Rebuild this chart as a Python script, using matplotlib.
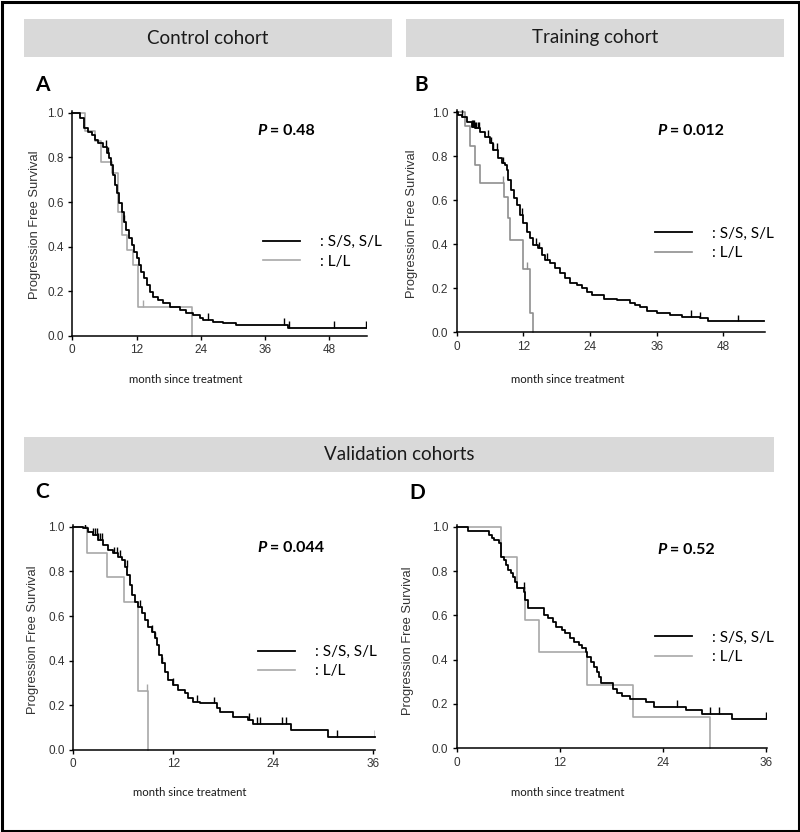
import numpy as np
import matplotlib
matplotlib.use("Agg")
import matplotlib.pyplot as plt
from matplotlib.patches import Rectangle

# ---------------- data (months, progression-free survival) ----------------
# Panel A - Control cohort
A_ss_t = [0, 1.4, 2.1, 3.0, 3.6, 4.2, 4.85, 5.8, 6.4, 6.9, 7.3, 7.6, 7.95, 8.3, 8.75,
          9.2, 9.6, 10.1, 10.6, 11.05, 11.5, 12.0, 12.5, 12.9, 13.35, 13.85, 14.5,
          15.1, 16.0, 16.95, 18.2, 20.1, 21.3, 22.5, 23.8, 24.4, 26.3, 28.1, 29.1,
          30.6, 40.2, 54.8]
A_ss_s = [1.0, 0.975, 0.93, 0.915, 0.9, 0.878, 0.863, 0.848, 0.818, 0.796, 0.766,
          0.721, 0.676, 0.639, 0.594, 0.557, 0.512, 0.475, 0.437, 0.407, 0.378,
          0.348, 0.318, 0.288, 0.258, 0.228, 0.199, 0.176, 0.161, 0.146, 0.131,
          0.116, 0.101, 0.094, 0.079, 0.072, 0.064, 0.06, 0.057, 0.051, 0.037, 0.037]
A_ss_cens = [6.2, 6.6, 9.6, 25.4, 39.6, 40.4, 48.9, 54.8]
A_ll_t = [0, 2.4, 4.2, 5.3, 7.5, 8.6, 9.2, 10.2, 11.4, 12.3, 22.4]
A_ll_s = [1.0, 0.918, 0.873, 0.778, 0.728, 0.554, 0.452, 0.385, 0.318, 0.131, 0.0]
A_ll_cens = [13.2]
A_p = "0.48"

# Panel B - Training cohort
B_ss_t = [0, 0.3, 0.9, 1.8, 2.7, 3.3, 4.2, 5.1, 6.0, 6.6, 7.5, 8.1, 8.7, 9.0, 9.3,
          9.8, 10.4, 10.8, 11.4, 12.0, 12.6, 13.2, 13.8, 14.7, 15.3, 15.9, 16.8,
          17.7, 18.6, 19.5, 20.4, 21.6, 22.5, 23.4, 24.3, 26.6, 28.8, 31.2, 32.1,
          33.0, 34.2, 36.0, 38.4, 40.5, 43.8, 45.3, 55.3]
B_ss_s = [1.0, 0.99, 0.98, 0.958, 0.935, 0.927, 0.912, 0.889, 0.859, 0.829, 0.791,
          0.768, 0.76, 0.738, 0.692, 0.647, 0.609, 0.579, 0.533, 0.495, 0.458,
          0.427, 0.397, 0.382, 0.352, 0.329, 0.314, 0.291, 0.268, 0.245, 0.223,
          0.215, 0.203, 0.185, 0.17, 0.151, 0.145, 0.135, 0.124, 0.115, 0.098,
          0.086, 0.079, 0.071, 0.063, 0.05, 0.05]
B_ss_cens = [1.0, 2.7, 2.9, 3.1, 3.3, 3.5, 3.8, 4.1, 5.6, 6.1, 6.6, 7.2, 8.4, 11.8,
             14.3, 14.9, 16.2, 42.1, 43.8, 50.7]
B_ll_t = [0, 1.5, 2.4, 3.3, 4.2, 8.5, 9.2, 9.6, 12.0, 13.2, 13.7]
B_ll_s = [1.0, 0.94, 0.845, 0.76, 0.68, 0.617, 0.52, 0.42, 0.29, 0.09, 0.0]
B_ll_cens = [0.9, 8.4, 12.6]
B_p = "0.012"

# Panel C - Validation cohort 1
C_ss_t = [0, 1.2, 1.8, 2.4, 3.0, 3.6, 4.2, 4.8, 5.4, 5.8, 6.2, 6.5, 6.8, 7.1, 7.4,
          7.8, 8.2, 8.6, 9.0, 9.4, 9.8, 10.1, 10.3, 10.6, 11.0, 11.4, 12.0, 12.6,
          13.4, 13.8, 14.4, 15.2, 17.2, 17.6, 19.2, 21.0, 21.6, 26.1, 30.6, 36.2]
C_ss_s = [1.0, 0.993, 0.978, 0.963, 0.94, 0.918, 0.896, 0.881, 0.866, 0.851, 0.821,
          0.784, 0.739, 0.694, 0.664, 0.642, 0.612, 0.582, 0.552, 0.53, 0.5, 0.47,
          0.425, 0.388, 0.351, 0.313, 0.291, 0.269, 0.254, 0.231, 0.216, 0.209,
          0.187, 0.172, 0.149, 0.134, 0.116, 0.09, 0.06, 0.06]
C_ss_cens = [1.4, 2.4, 2.6, 2.8, 3.0, 3.2, 3.4, 4.9, 5.2, 5.6, 6.4, 8.0, 9.5, 9.8,
             10.6, 12.0, 14.8, 16.9, 21.1, 22.1, 22.4, 25.0, 25.5, 31.6, 36.2]
C_ll_t = [0, 1.6, 4.1, 6.1, 7.8, 9.0]
C_ll_s = [1.0, 0.884, 0.776, 0.664, 0.266, 0.0]
C_ll_cens = [8.9]
C_p = "0.044"

# Panel D - Validation cohort 2
D_ss_t = [0, 1.35, 3.8, 4.06, 4.37, 4.9, 5.1, 5.5, 5.7, 6.0, 6.3, 6.6, 6.8, 7.0,
          7.85, 8.0, 8.24, 10.1, 10.6, 11.2, 11.6, 12.2, 12.6, 13.2, 13.7, 14.2,
          14.6, 15.0, 15.2, 15.6, 16.0, 16.3, 16.5, 16.8, 18.2, 18.6, 19.2, 20.2,
          22.0, 22.9, 26.7, 28.5, 32.0, 36.0]
D_ss_s = [1.0, 0.982, 0.962, 0.947, 0.94, 0.925, 0.865, 0.85, 0.827, 0.805, 0.79,
          0.772, 0.752, 0.722, 0.707, 0.67, 0.632, 0.602, 0.586, 0.571, 0.548,
          0.534, 0.519, 0.496, 0.481, 0.466, 0.451, 0.436, 0.413, 0.391, 0.368,
          0.346, 0.323, 0.293, 0.266, 0.248, 0.236, 0.222, 0.207, 0.188, 0.173,
          0.155, 0.132, 0.132]
D_ss_cens = [7.8, 25.6, 29.5, 30.5, 36.0]
D_ll_t = [0, 5.1, 7.0, 8.0, 9.6, 15.2, 20.5, 29.5]
D_ll_s = [1.0, 0.865, 0.722, 0.579, 0.436, 0.286, 0.143, 0.0]
D_ll_cens = []
D_p = "0.52"

x_ticks_top = [0, 12, 24, 36, 48]
x_ticks_bottom = [0, 12, 24, 36]
y_ticks = [0.0, 0.2, 0.4, 0.6, 0.8, 1.0]
legend_labels = [": S/S, S/L", ": L/L"]
headers = ["Control cohort", "Training cohort", "Validation cohorts"]
panel_letters = ["A", "B", "C", "D"]
x_label = "month since treatment"
y_label = "Progression Free Survival"

# ---------------- figure ----------------
W, H = 800, 832
fig = plt.figure(figsize=(W / 100, H / 100), dpi=100)
fig.patch.set_facecolor("white")

TITLE_FONT = ["Lato", "DejaVu Sans"]
AX_FONT = ["Liberation Sans", "DejaVu Sans"]


def fx(px):
    return px / W


def fy(py):
    return 1 - py / H


# outer frame
fig.add_artist(Rectangle((fx(1.5), fy(H - 1.5)), fx(W - 3), 1 - 3 / H,
                         transform=fig.transFigure, fill=False,
                         edgecolor="black", linewidth=2.2))

# header boxes
for (x0, x1, y0, y1), txt in zip([(24, 392, 19, 57), (406, 784, 19, 57),
                                  (24, 774, 437, 472)], headers):
    fig.add_artist(Rectangle((fx(x0), fy(y1)), fx(x1 - x0), (y1 - y0) / H,
                             transform=fig.transFigure, facecolor="#d9d9d9",
                             edgecolor="none"))
    fig.text(fx((x0 + x1) / 2), fy((y0 + y1) / 2), txt, ha="center",
             va="center", fontsize=13.5, family=TITLE_FONT, color="#1a1a1a")

panels = [
    dict(letter="A", rect=(72.3, 367, 110.5, 336), xlim=55.0, xt=x_ticks_top,
         ss=(A_ss_t, A_ss_s, A_ss_cens), ll=(A_ll_t, A_ll_s, A_ll_cens), p=A_p,
         gray="#a8a8a8", letter_xy=(42, 85), p_xy=(257, 131), leg_xy=(263, 252),
         xl_xy=(186, 380), yl_xy=(35, 225)),
    dict(letter="B", rect=(456.7, 765, 110.1, 332.3), xlim=55.5, xt=x_ticks_top,
         ss=(B_ss_t, B_ss_s, B_ss_cens), ll=(B_ll_t, B_ll_s, B_ll_cens), p=B_p,
         gray="#8f8f8f", letter_xy=(421, 85), p_xy=(657, 131), leg_xy=(655, 243.3),
         xl_xy=(568, 380), yl_xy=(412, 224)),
    dict(letter="C", rect=(73.3, 375, 524.5, 750), xlim=36.2, xt=x_ticks_bottom,
         ss=(C_ss_t, C_ss_s, C_ss_cens), ll=(C_ll_t, C_ll_s, C_ll_cens), p=C_p,
         gray="#a8a8a8", letter_xy=(42, 492), p_xy=(257, 548), leg_xy=(258, 661.7),
         xl_xy=(190, 793), yl_xy=(33, 640)),
    dict(letter="D", rect=(456.7, 767, 524.5, 748.3), xlim=36.1, xt=x_ticks_bottom,
         ss=(D_ss_t, D_ss_s, D_ss_cens), ll=(D_ll_t, D_ll_s, D_ll_cens), p=D_p,
         gray="#a8a8a8", letter_xy=(417, 493), p_xy=(657, 550), leg_xy=(655, 647.5),
         xl_xy=(568, 793), yl_xy=(408, 641)),
]


def surv_at(t, s, c):
    t = np.asarray(t)
    idx = np.searchsorted(t, c, side="right") - 1
    return np.asarray(s)[np.clip(idx, 0, len(s) - 1)]


for pn in panels:
    l, r, top, bot = pn["rect"]
    ax = fig.add_axes([fx(l), fy(bot), fx(r - l), (bot - top) / H])
    ax.set_xlim(0, pn["xlim"])
    ax.set_ylim(0, 1.01)
    for side in ("top", "right"):
        ax.spines[side].set_visible(False)
    for side in ("left", "bottom"):
        ax.spines[side].set_linewidth(1.1)
        ax.spines[side].set_color("black")
    ax.set_xticks(pn["xt"])
    ax.set_yticks(y_ticks)
    ax.set_yticklabels([f"{v:.1f}" for v in y_ticks])
    ax.tick_params(length=3, width=1, direction="out", labelsize=8.5,
                   labelcolor="#333333", pad=3)
    for lab in ax.get_xticklabels() + ax.get_yticklabels():
        lab.set_family(AX_FONT)

    # gray L/L curve (drawn first), then black S/S, S/L
    lt, ls, lc = pn["ll"]
    st, ss, sc = pn["ss"]
    h_ll, = ax.step(lt, ls, where="post", color=pn["gray"], lw=1.2,
                    clip_on=False, zorder=2)
    h_ss, = ax.step(st, ss, where="post", color="black", lw=1.3,
                    clip_on=False, zorder=3)
    if len(lc):
        cy = surv_at(lt, ls, lc)
        ax.vlines(lc, cy, cy + 0.03, color=pn["gray"], lw=1.0, zorder=2)
    if len(sc):
        cy = surv_at(st, ss, sc)
        ax.vlines(sc, cy, cy + 0.03, color="black", lw=1.0, zorder=3)

    ax.legend([h_ss, h_ll], legend_labels, frameon=False, loc="center left",
              bbox_to_anchor=(fx(pn["leg_xy"][0]), fy(pn["leg_xy"][1])),
              bbox_transform=fig.transFigure, borderpad=0, borderaxespad=0,
              handlelength=2.45, handletextpad=1.3, labelspacing=0.35,
              prop=dict(family=TITLE_FONT, size=11))

    # P value
    t1 = fig.text(fx(pn["p_xy"][0]), fy(pn["p_xy"][1]), "P", fontsize=11.5,
                  family=TITLE_FONT, weight="bold", style="italic",
                  ha="left", va="center")
    ax.annotate(f" = {pn['p']}", xy=(1, 0.5), xycoords=t1, ha="left",
                va="center", fontsize=11.5, family=TITLE_FONT, weight="bold")

    fig.text(fx(pn["letter_xy"][0]), fy(pn["letter_xy"][1]), pn["letter"],
             fontsize=15, family=TITLE_FONT, weight="bold", ha="center",
             va="center")
    fig.text(fx(pn["xl_xy"][0]), fy(pn["xl_xy"][1]), x_label, fontsize=8.2,
             family=TITLE_FONT, ha="center", va="center", color="#1a1a1a")
    fig.text(fx(pn["yl_xy"][0]), fy(pn["yl_xy"][1]), y_label, fontsize=9.3,
             family=AX_FONT, ha="center", va="center", rotation=90,
             color="#333333")

fig.savefig("out.png", dpi=100)
